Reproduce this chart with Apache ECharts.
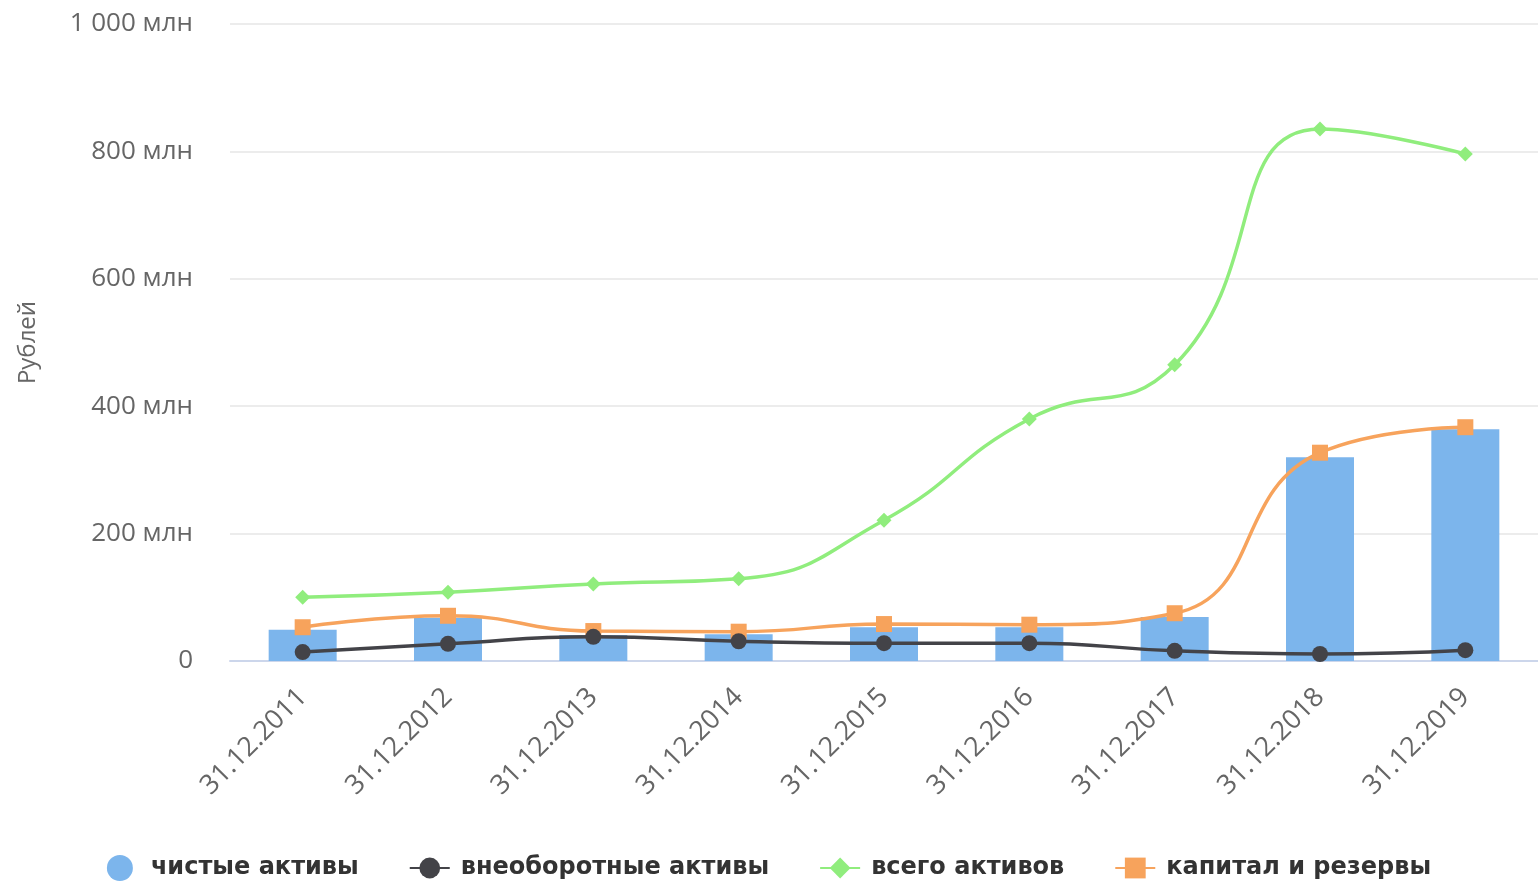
<!DOCTYPE html>
<html><head><meta charset="utf-8">
<script src="https://cdn.jsdelivr.net/npm/echarts@6/dist/echarts.min.js"></script>
<style>html,body{margin:0;padding:0;background:#fff}#c{width:1538px;height:881px}</style>
</head><body><div id="c"></div>
<script>
const categories = ['31.12.2011','31.12.2012','31.12.2013','31.12.2014','31.12.2015','31.12.2016','31.12.2017','31.12.2018','31.12.2019'];
const netAssets = [49, 68, 41, 42, 53, 53, 69, 320, 364];
const nonCurrent = [14, 27, 38, 31, 28, 28, 16, 11, 17];
const totalAssets = [100, 108, 121, 129, 221, 380, 465, 835, 796];
const capital = [53, 71, 47, 46, 58, 57, 75, 327, 367];
const yTicks = [0, 200, 400, 600, 800, 1000];

const chart = echarts.init(document.getElementById('c'));
chart.setOption({
  animation: false,
  grid: {left: 230, right: 0, top: 24, bottom: 220, containLabel: false},
  legend: {
    top: 850, left: 'center', itemGap: 50, itemWidth: 40, itemHeight: 26,
    textStyle: {fontFamily: 'DejaVu Sans', fontWeight: 'bold', fontSize: 24, color: '#333', padding: [0, 0, 0, 6]},
    data: [
      {name: 'чистые активы', icon: 'circle'},
      {name: 'внеоборотные активы'},
      {name: 'всего активов'},
      {name: 'капитал и резервы'}
    ]
  },
  xAxis: {
    type: 'category', data: categories,
    axisLine: {lineStyle: {color: '#ccd6eb', width: 2}},
    axisTick: {show: false},
    axisLabel: {rotate: 45, fontSize: 27, color: '#666', fontFamily: 'Open Sans', margin: 32}
  },
  yAxis: {
    type: 'value', min: 0, max: 1000, interval: 200,
    name: 'Рублей', nameLocation: 'middle', nameRotate: 90, nameGap: 190,
    nameTextStyle: {fontSize: 24, color: '#666', fontFamily: 'Open Sans'},
    axisLabel: {
      fontSize: 26, color: '#666', fontFamily: 'Open Sans', margin: 37,
      formatter: v => v === 0 ? '0' : (v === 1000 ? '1 000 млн' : v + ' млн')
    },
    splitLine: {lineStyle: {color: '#e6e6e6', width: 1.5}},
    axisLine: {show: false}, axisTick: {show: false}
  },
  series: [
    {name: 'чистые активы', type: 'bar', data: netAssets, barWidth: 68,
     itemStyle: {color: '#7cb5ec'}, z: 1},
    {name: 'внеоборотные активы', type: 'line', data: nonCurrent, smooth: true,
     symbol: 'circle', symbolSize: 16, showAllSymbol: true,
     lineStyle: {color: '#434348', width: 3.5}, itemStyle: {color: '#434348'}, z: 5},
    {name: 'всего активов', type: 'line', data: totalAssets, smooth: true,
     symbol: 'diamond', symbolSize: 15, showAllSymbol: true,
     lineStyle: {color: '#90ed7d', width: 3.5}, itemStyle: {color: '#90ed7d'}, z: 4},
    {name: 'капитал и резервы', type: 'line', data: capital, smooth: true,
     symbol: 'rect', symbolSize: 16, showAllSymbol: true,
     lineStyle: {color: '#f7a35c', width: 3.5}, itemStyle: {color: '#f7a35c'}, z: 3}
  ]
});
</script></body></html>
